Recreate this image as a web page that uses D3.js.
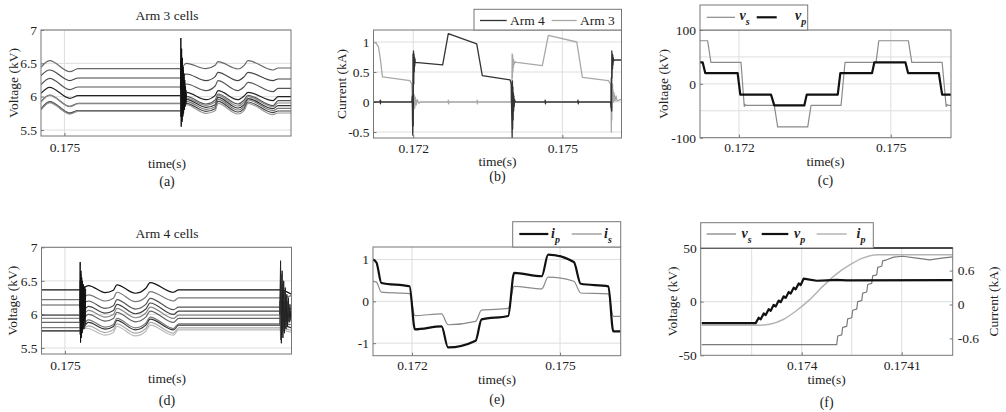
<!DOCTYPE html>
<html><head><meta charset="utf-8">
<script src="https://cdn.jsdelivr.net/npm/d3@7"></script>
<style>body{margin:0;background:#fff} svg text{fill:#222}</style>
</head><body><svg id="chart" width="1006" height="412"></svg>
<script>
// ---------------- DATA ----------------
// (a) Arm 3 cells  (time s, voltage kV)
const timeA = [0.1744, 0.17462, 0.17514, 0.17535, 0.17796, 0.17812, 0.17862, 0.17886, 0.17893, 0.17944, 0.1796, 0.1797, 0.18034, 0.18047, 0.1808];
const cellA1 = [6.44, 6.54, 6.375, 6.42, 6.42, 6.50, 6.42, 6.47, 6.525, 6.415, 6.47, 6.54, 6.40, 6.43, 6.43];
const cellA2 = [6.315, 6.40, 6.24, 6.28, 6.28, 6.34, 6.24, 6.30, 6.365, 6.24, 6.30, 6.365, 6.24, 6.265, 6.265];
const cellA3 = [6.18, 6.275, 6.105, 6.145, 6.145, 6.19, 6.09, 6.16, 6.24, 6.09, 6.15, 6.215, 6.075, 6.125, 6.125];
const cellA4 = [6.05, 6.14, 5.975, 6.015, 6.015, 6.065, 5.955, 6.02, 6.09, 5.955, 6.01, 6.065, 5.94, 6.0, 6.0];
const cellA5 = [5.925, 6.025, 5.855, 5.90, 5.90, 6.005, 5.89, 5.95, 6.04, 5.89, 5.95, 6.02, 5.865, 5.94, 5.94];
const cellA6 = [5.92, 6.02, 5.85, 5.895, 5.895, 5.98, 5.87, 5.92, 6.02, 5.86, 5.92, 6.0, 5.85, 5.905, 5.905];
const cellA7 = [5.815, 5.925, 5.755, 5.79, 5.79, 5.96, 5.84, 5.88, 5.99, 5.83, 5.88, 5.97, 5.82, 5.865, 5.865];
const cellA8 = [5.81, 5.92, 5.75, 5.79, 5.79, 5.93, 5.81, 5.85, 5.96, 5.80, 5.85, 5.95, 5.79, 5.825, 5.825];
const cellA9 = [5.805, 5.915, 5.745, 5.785, 5.785, 5.90, 5.78, 5.82, 5.93, 5.77, 5.82, 5.92, 5.76, 5.785, 5.785];
const cellA10 = [5.80, 5.91, 5.74, 5.78, 5.78, 5.88, 5.75, 5.79, 5.90, 5.74, 5.79, 5.90, 5.73, 5.755, 5.755];
const burstTimeA = [0.17797, 0.17798, 0.17799, 0.17800, 0.17801, 0.17802, 0.17803, 0.17804, 0.17805, 0.17806, 0.17807, 0.17808, 0.17809, 0.17810, 0.17811, 0.17812];
const burstA1 = [6.1, 6.88, 5.55, 6.72, 5.62, 6.58, 5.7, 6.45, 5.75, 6.35, 5.8, 6.25, 5.85, 6.15, 5.9, 6.05];
const burstA2 = [5.95, 6.55, 5.7, 6.6, 5.65, 6.45, 5.72, 6.4, 5.78, 6.3, 5.82, 6.2, 5.88, 6.1, 5.92, 6.0];
const burstA3 = [6.2, 5.7, 6.5, 5.75, 6.55, 5.8, 6.4, 5.85, 6.35, 5.9, 6.25, 5.95, 6.15, 5.98, 6.1, 6.0];

// (d) Arm 4 cells
const timeD = [0.1744, 0.17538, 0.1756, 0.17603, 0.17624, 0.17633, 0.1768, 0.17707, 0.17718, 0.17778, 0.17791, 0.1805, 0.1808];
const cellD1 = [6.365, 6.365, 6.43, 6.325, 6.36, 6.44, 6.315, 6.39, 6.475, 6.33, 6.365, 6.365, 6.3];
const cellD2 = [6.22, 6.22, 6.29, 6.2, 6.24, 6.33, 6.19, 6.26, 6.34, 6.2, 6.245, 6.245, 6.28];
const cellD3 = [6.14, 6.14, 6.2, 6.09, 6.13, 6.22, 6.08, 6.15, 6.24, 6.07, 6.11, 6.11, 6.08];
const cellD4 = [5.99, 5.99, 6.12, 6.02, 6.06, 6.15, 6.01, 6.08, 6.17, 6.0, 6.05, 6.05, 5.98];
const cellD5 = [5.94, 5.94, 6.06, 5.96, 6.0, 6.09, 5.95, 6.02, 6.11, 5.94, 5.99, 5.99, 6.02];
const cellD6 = [5.88, 5.88, 6.0, 5.9, 5.94, 6.03, 5.89, 5.96, 6.05, 5.88, 5.94, 5.94, 5.9];
const cellD7 = [5.805, 5.805, 5.92, 5.81, 5.85, 5.94, 5.8, 5.87, 5.96, 5.79, 5.86, 5.86, 5.85];
const cellD8 = [5.755, 5.755, 5.88, 5.78, 5.82, 5.91, 5.77, 5.84, 5.93, 5.77, 5.84, 5.84, 5.8];
const cellD9 = [5.755, 5.755, 5.83, 5.73, 5.77, 5.86, 5.72, 5.79, 5.88, 5.72, 5.80, 5.80, 5.76];
const cellD10 = [5.8, 5.8, 5.79, 5.69, 5.73, 5.82, 5.68, 5.75, 5.84, 5.69, 5.77, 5.77, 5.73];
const burstTimeD1 = [0.17538, 0.17539, 0.1754, 0.17541, 0.17542, 0.17543, 0.17544, 0.17545, 0.17546, 0.17547, 0.17548, 0.17549, 0.1755, 0.17551, 0.17552, 0.17553];
const burstD1a = [6.1, 6.78, 5.58, 6.65, 5.65, 6.55, 5.72, 6.5, 5.78, 6.45, 5.85, 6.42, 5.9, 6.4, 5.95, 6.38];
const burstD1b = [5.9, 6.5, 5.65, 6.6, 5.7, 6.45, 5.75, 6.4, 5.8, 6.3, 5.85, 6.2, 5.88, 6.1, 5.85, 5.9];
const burstD1c = [6.2, 5.7, 6.55, 5.75, 6.5, 5.8, 6.45, 5.75, 6.3, 5.8, 6.2, 5.78, 6.0, 5.82, 5.95, 5.85];
const burstTimeD2 = [0.1805, 0.18052, 0.18054, 0.18056, 0.18058, 0.1806, 0.18062, 0.18064, 0.18066, 0.18068, 0.1807, 0.18072, 0.18074, 0.18076, 0.18078, 0.1808];
const burstD2a = [6.0, 6.8, 5.57, 6.65, 5.65, 6.5, 5.72, 6.4, 5.78, 6.3, 5.82, 6.25, 5.88, 6.15, 5.92, 6.1];
const burstD2b = [6.2, 5.62, 6.6, 5.7, 6.45, 5.75, 6.35, 5.8, 6.25, 5.85, 6.2, 5.9, 6.1, 5.95, 6.05, 5.98];
const burstD2c = [5.85, 6.5, 5.75, 6.3, 5.8, 6.2, 5.85, 6.1, 5.9, 6.05, 5.95, 6.0, 5.96, 5.98, 5.97, 5.97];

// (b) Arm currents (time s, current kA)
const arm4Time = [0.1712, 0.17133, 0.171335, 0.17134, 0.171345, 0.17135, 0.17197, 0.17198, 0.171985, 0.17199, 0.171995, 0.172, 0.172005, 0.17201, 0.172015, 0.17202, 0.172025, 0.17203, 0.172035, 0.17204, 0.172592, 0.172705, 0.173277, 0.173389, 0.173947, 0.17397, 0.17399, 0.173995, 0.174, 0.174005, 0.17401, 0.174015, 0.17402, 0.174025, 0.17403, 0.17404, 0.17405, 0.17465, 0.174655, 0.17466, 0.174665, 0.17531, 0.175315, 0.17532, 0.175325, 0.17597, 0.17598, 0.175985, 0.17599, 0.175995, 0.176, 0.176005, 0.17601, 0.176015, 0.17602, 0.176025, 0.17603, 0.17604, 0.1762];
const arm4Cur = [0, 0, 0.03, -0.03, 0.02, 0, 0, 0.1, -0.3, -0.55, 0.8, -0.4, 0.85, 0.3, 0.8, 0.5, 0.75, 0.6, 0.72, 0.66, 0.62, 1.14, 0.97, 0.44, 0.37, 0.3, -0.6, 0.35, -0.45, 0.25, -0.3, 0.15, -0.15, 0.1, -0.08, 0.04, 0, 0, 0.03, -0.03, 0, 0, 0.03, -0.03, 0, 0, -0.1, 0.4, -0.15, 0.85, 0.4, 0.8, 0.55, 0.78, 0.62, 0.74, 0.68, 0.7, 0.7];
const arm3Time = [0.1712, 0.17125, 0.1713, 0.17134, 0.17138, 0.171934, 0.17197, 0.17198, 0.171985, 0.17199, 0.171995, 0.172, 0.17201, 0.17202, 0.17203, 0.17204, 0.17206, 0.17208, 0.17211, 0.17214, 0.1727, 0.172705, 0.17271, 0.172715, 0.17328, 0.173285, 0.17329, 0.173295, 0.17397, 0.173985, 0.17399, 0.173995, 0.174, 0.174005, 0.17401, 0.174015, 0.17402, 0.17403, 0.17405, 0.174082, 0.174597, 0.174718, 0.17529, 0.175403, 0.175926, 0.17597, 0.17598, 0.175985, 0.17599, 0.175995, 0.176, 0.176005, 0.17601, 0.176015, 0.17602, 0.17603, 0.17604, 0.17606, 0.17608, 0.1761, 0.1762];
const arm3Cur = [1.0, 0.98, 0.92, 0.7, 0.42, 0.355, 0.3, 0.05, -0.1, 0.12, -0.15, 0.15, -0.12, 0.12, -0.1, 0.08, -0.05, 0.04, -0.02, 0, 0, 0.03, -0.03, 0, 0, 0.03, -0.03, 0, 0, 0.3, 0.8, 0.4, 0.78, 0.5, 0.72, 0.58, 0.7, 0.63, 0.67, 0.66, 0.605, 1.11, 1.0, 0.41, 0.355, 0.3, 0.05, -0.5, 0.3, -0.3, 0.25, -0.15, 0.3, 0.05, 0.2, 0.0, 0.15, 0.02, 0.1, 0.02, 0.05];

// (c) Voltages (kV)
const vsTimeC = [0.17122, 0.171381, 0.171446, 0.17204, 0.172105, 0.17212, 0.17214, 0.172698, 0.172765, 0.173359, 0.173424, 0.174017, 0.174096, 0.174709, 0.174763, 0.175348, 0.175415, 0.176015, 0.176094, 0.17611, 0.17613, 0.1762];
const vsC = [80, 80, 40, 40, -42, -38, -40, -40, -80, -80, -40, -40, 40, 40, 80, 80, 40, 40, -42, -38, -40, -40];
const vpTimeC = [0.17122, 0.171282, 0.171334, 0.171974, 0.172026, 0.172633, 0.172698, 0.173291, 0.173339, 0.173952, 0.174003, 0.17463, 0.174676, 0.175289, 0.175342, 0.175949, 0.176015, 0.1762];
const vpC = [40, 40, 20, 20, -20, -20, -40, -40, -20, -20, 20, 20, 40, 40, 20, 20, -20, -20];

// (e) Currents (kA)
const timeE = [0.17121, 0.17128, 0.17138, 0.17195, 0.17206, 0.1726, 0.17273, 0.17329, 0.17341, 0.17395, 0.17407, 0.17463, 0.17476, 0.17528, 0.17542, 0.17598, 0.17608, 0.17623];
const ipE = [1.0, 0.93, 0.44, 0.36, -0.67, -0.6, -1.1, -0.94, -0.43, -0.35, 0.68, 0.6, 1.12, 0.94, 0.42, 0.36, -0.72, -0.72];
const isE = [0.48, 0.46, 0.22, 0.185, -0.34, -0.30, -0.56, -0.48, -0.21, -0.17, 0.36, 0.30, 0.58, 0.48, 0.20, 0.18, -0.36, -0.36];

// (f) Zoomed transition
const vsTimeF = [0.1739, 0.174035, 0.174036, 0.17404, 0.174041, 0.174045, 0.174046, 0.17405, 0.174051, 0.174055, 0.174056, 0.17406, 0.174061, 0.174065, 0.174066, 0.17407, 0.174071, 0.174075, 0.174076, 0.17408, 0.174081, 0.174085, 0.174092, 0.174101, 0.174115, 0.174128, 0.17414, 0.174151];
const vsF = [-40, -40, -32, -31, -24, -23, -16, -15, -8, -7, 0, 1, 8, 9, 16, 17, 24, 25, 32, 33, 38, 39, 41.5, 42.3, 40.5, 39, 40.5, 41.7];
const vpTimeF = [0.1739, 0.173954, 0.173957, 0.173959, 0.173962, 0.173964, 0.173967, 0.173969, 0.173972, 0.173974, 0.173977, 0.173979, 0.173982, 0.173984, 0.173987, 0.173989, 0.173992, 0.173994, 0.173997, 0.173999, 0.174002, 0.174008, 0.174015, 0.174025, 0.174035, 0.174045, 0.174151];
const vpF = [-20, -20, -15, -16.5, -11, -12.5, -7, -8.5, -3, -4.5, 1, -0.5, 5, 3.5, 9, 7.5, 13, 11.5, 17, 15.5, 21.5, 20.5, 19.5, 19.8, 20.3, 19.8, 20];
const ipTimeF = [0.1739, 0.173954, 0.173968, 0.173981, 0.173994, 0.174008, 0.174021, 0.174034, 0.174048, 0.174061, 0.174076, 0.174151];
const ipF = [-0.37, -0.37, -0.35, -0.27, -0.12, 0.085, 0.32, 0.53, 0.70, 0.82, 0.88, 0.88];

// tick values
const cellTicksY = [5.5, 6, 6.5, 7];
const cellTicksX = [0.175];
const armTicksY = [-0.5, 0, 0.5, 1];
const midTicksX = [0.172, 0.175];
const vTicksYc = [-100, 0, 100];
const vGridYc = [-100, -50, 0, 50, 100];
const iTicksYe = [-1, 0, 1];
const fTicksX = [0.174, 0.1741];
const fGridX = [0.17395, 0.174, 0.17405, 0.1741];
const fTicksYL = [-50, 0, 50];
const fTicksYR = [-0.6, 0, 0.6];

// ---------------- DRAWING ----------------
const svg = d3.select("#chart");
const FONT = "Liberation Serif";
const FS = 13.5;
const fmt = d => String(+d.toFixed(5));

function panel(o) {
  const x = d3.scaleLinear().domain(o.xd).range([o.L, o.R]);
  const y = d3.scaleLinear().domain(o.yd).range([o.B, o.T]);
  const g = svg.append("g");
  const cid = "clip-" + o.id;
  g.append("clipPath").attr("id", cid).append("rect")
    .attr("x", o.L).attr("y", o.T).attr("width", o.R - o.L).attr("height", o.B - o.T);
  g.append("g").selectAll("line").data(o.xGrid).join("line")
    .attr("x1", d => x(d)).attr("x2", d => x(d)).attr("y1", o.T).attr("y2", o.B)
    .attr("stroke", "#dedede").attr("stroke-width", 1);
  g.append("g").selectAll("line").data(o.yGrid).join("line")
    .attr("y1", d => y(d)).attr("y2", d => y(d)).attr("x1", o.L).attr("x2", o.R)
    .attr("stroke", "#dedede").attr("stroke-width", 1);
  const ax = g.append("g").attr("transform", `translate(0,${o.B})`)
    .call(d3.axisBottom(x).tickValues(o.xTicks).tickFormat(fmt).tickSizeInner(-3).tickSizeOuter(0).tickPadding(o.xPad || 5));
  const ay = g.append("g").attr("transform", `translate(${o.L},0)`)
    .call(d3.axisLeft(y).tickValues(o.yTicks).tickFormat(fmt).tickSizeInner(-3).tickSizeOuter(0).tickPadding(4));
  [ax, ay].forEach(a => {
    a.select(".domain").remove();
    a.attr("font-family", FONT).attr("font-size", FS);
    a.selectAll("line").attr("stroke", "#777");
    a.selectAll("text").style("fill", "#222");
  });
  const layer = g.append("g").attr("clip-path", `url(#${cid})`);
  return { x, y, g, layer, o };
}
function frame(p, stroke) {
  const o = p.o;
  p.g.append("rect").attr("x", o.L).attr("y", o.T).attr("width", o.R - o.L).attr("height", o.B - o.T)
    .attr("fill", "none").attr("stroke", stroke || "#777").attr("stroke-width", 1);
}
function series(p, T, V, color, w, curve, yScale) {
  const ys = yScale || p.y;
  p.layer.append("path").datum(d3.zip(T, V))
    .attr("fill", "none").attr("stroke", color).attr("stroke-width", w)
    .attr("stroke-linejoin", "round")
    .attr("d", d3.line().x(d => p.x(d[0])).y(d => ys(d[1])).curve(curve || d3.curveLinear));
}
function txt(x, y, s, opt = {}) {
  const t = svg.append("text").attr("x", x).attr("y", y).text(s)
    .attr("font-family", FONT)
    .attr("font-size", opt.size || FS).attr("text-anchor", opt.anchor || "middle");
  if (opt.rot) t.attr("transform", `rotate(${opt.rot},${x},${y})`).attr("dominant-baseline", "central");
  return t;
}
function legendBox(x0, y0, x1, y1) {
  svg.append("rect").attr("x", x0).attr("y", y0).attr("width", x1 - x0).attr("height", y1 - y0)
    .attr("fill", "#fff").attr("stroke", "#777").attr("stroke-width", 1);
}
function legLine(x0, x1, y, color, w) {
  svg.append("line").attr("x1", x0).attr("x2", x1).attr("y1", y).attr("y2", y)
    .attr("stroke", color).attr("stroke-width", w);
}
function legSym(x, y, base, sub) {
  const t = svg.append("text").attr("x", x).attr("y", y).attr("font-family", FONT)
    .attr("font-size", 14).attr("font-style", "italic").attr("font-weight", "bold");
  t.append("tspan").text(base);
  t.append("tspan").text(sub).attr("font-size", 10).attr("dy", 5);
}

const cellColorsA = ["#666", "#444", "#555", "#222", "#555", "#888", "#333", "#777", "#444", "#999"];
const cellColorsD = ["#111", "#777", "#555", "#444", "#888", "#666", "#777", "#333", "#aaa", "#bbb"];

// ---- (a)
{
  const p = panel({ id: "a", L: 41, R: 291, T: 30, B: 136, xd: [0.1744, 0.1808], yd: [5.41, 7],
    xGrid: cellTicksX, yGrid: cellTicksY, xTicks: cellTicksX, yTicks: cellTicksY, xPad: 6 });
  [cellA1, cellA2, cellA3, cellA4, cellA5, cellA6, cellA7, cellA8, cellA9, cellA10]
    .forEach((c, i) => series(p, timeA, c, cellColorsA[i], 1.2, d3.curveMonotoneX));
  [burstA2, burstA3, burstA1].forEach((b, i) => series(p, burstTimeA, b, ["#444", "#333", "#111"][i], 1));
  frame(p);
  txt(167, 20, "Arm 3 cells");
  txt(13, 83, "Voltage (kV)", { rot: -90 });
  txt(167, 168, "time(s)");
  txt(167, 186, "(a)", { size: 14 });
}
// ---- (d)
{
  const p = panel({ id: "d", L: 41.5, R: 291.5, T: 247.3, B: 354, xd: [0.1744, 0.1808], yd: [5.41, 7],
    xGrid: cellTicksX, yGrid: cellTicksY, xTicks: cellTicksX, yTicks: cellTicksY, xPad: 6 });
  [cellD10, cellD9, cellD8, cellD7, cellD6, cellD5, cellD4, cellD3, cellD2, cellD1]
    .forEach((c, i) => series(p, timeD, c, cellColorsD[9 - i], 1.2, d3.curveMonotoneX));
  [burstD1b, burstD1c, burstD1a].forEach((b, i) => series(p, burstTimeD1, b, ["#555", "#333", "#111"][i], 1));
  [burstD2b, burstD2c, burstD2a].forEach((b, i) => series(p, burstTimeD2, b, ["#666", "#444", "#222"][i], 1));
  frame(p);
  txt(167, 238, "Arm 4 cells");
  txt(13, 300.7, "Voltage (kV)", { rot: -90 });
  txt(167, 383, "time(s)");
  txt(167, 405, "(d)", { size: 14 });
}
// ---- (b)
{
  const p = panel({ id: "b", L: 373.5, R: 621.5, T: 30, B: 138, xd: [0.1712, 0.17619], yd: [-0.6, 1.2],
    xGrid: midTicksX, yGrid: armTicksY, xTicks: midTicksX, yTicks: armTicksY });
  series(p, arm3Time, arm3Cur, "#a8a8a8", 1.3);
  series(p, arm4Time, arm4Cur, "#333", 1.3);
  frame(p);
  legendBox(474, 9.3, 621.5, 30);
  legLine(480, 506.7, 20.5, "#333", 1.3);
  txt(510, 25, "Arm 4", { anchor: "start" });
  legLine(551.7, 576.7, 20.5, "#a8a8a8", 1.3);
  txt(580, 25, "Arm 3", { anchor: "start" });
  txt(341, 84, "Current (kA)", { rot: -90 });
  txt(497.5, 166, "time(s)");
  txt(497.5, 181, "(b)", { size: 14 });
}
// ---- (c)
{
  const p = panel({ id: "c", L: 700, R: 951, T: 30, B: 137.7, xd: [0.17123, 0.17619], yd: [-100, 100],
    xGrid: midTicksX, yGrid: vGridYc, xTicks: midTicksX, yTicks: vTicksYc });
  series(p, vsTimeC, vsC, "#8a8a8a", 1.2);
  series(p, vpTimeC, vpC, "#111", 2.2);
  frame(p);
  legendBox(700, 5, 807.7, 30);
  legLine(706.7, 735, 17.3, "#8a8a8a", 1.2);
  legSym(739.5, 20, "v", "s");
  legLine(756.7, 776.7, 17.3, "#111", 2.2);
  legSym(795, 20, "v", "p");
  txt(663, 84, "Voltage (kV)", { rot: -90 });
  txt(825.5, 166, "time(s)");
  txt(825.5, 185, "(c)", { size: 14 });
}
// ---- (e)
{
  const p = panel({ id: "e", L: 373, R: 620.7, T: 247, B: 355.7, xd: [0.17121, 0.17623], yd: [-1.3, 1.3],
    xGrid: midTicksX, yGrid: iTicksYe, xTicks: midTicksX, yTicks: iTicksYe });
  series(p, timeE, isE, "#8a8a8a", 1.2, d3.curveMonotoneX);
  series(p, timeE, ipE, "#111", 2.2, d3.curveMonotoneX);
  frame(p);
  legendBox(512.7, 221.7, 620.7, 247);
  legLine(519.3, 548.3, 234, "#111", 2.2);
  legSym(551, 237.5, "i", "p");
  legLine(571.7, 601.7, 234, "#8a8a8a", 1.2);
  legSym(604, 237.5, "i", "s");
  txt(497, 384, "time(s)");
  txt(497, 404, "(e)", { size: 14 });
}
// ---- (f)
{
  const p = panel({ id: "f", L: 700.7, R: 952.7, T: 248, B: 355.3, xd: [0.173899, 0.174151], yd: [-50, 50],
    xGrid: fGridX, yGrid: [0], xTicks: fTicksX, yTicks: fTicksYL });
  const yR = d3.scaleLinear().domain([-0.9, 1.0]).range([355.3, 248]);
  const ar = p.g.append("g").attr("transform", "translate(952.7,0)")
    .call(d3.axisRight(yR).tickValues(fTicksYR).tickFormat(fmt).tickSizeInner(-3).tickSizeOuter(0).tickPadding(5));
  ar.select(".domain").remove();
  ar.attr("font-family", FONT).attr("font-size", FS);
  ar.selectAll("line").attr("stroke", "#777");
  ar.selectAll("text").style("fill", "#222");
  series(p, ipTimeF, ipF, "#b4b4b4", 1.5, d3.curveMonotoneX, yR);
  series(p, vsTimeF, vsF, "#7a7a7a", 1.2);
  series(p, vpTimeF, vpF, "#111", 2.2);
  frame(p);
  p.g.append("line").attr("x1", 700.7).attr("x2", 952.7).attr("y1", 248).attr("y2", 248).attr("stroke", "#222").attr("stroke-width", 1.6);
  legendBox(700.7, 222.7, 873.3, 248);
  legLine(706.7, 736, 234, "#7a7a7a", 1.2);
  legSym(741.5, 237.5, "v", "s");
  legLine(761.7, 788.3, 234, "#111", 2.2);
  legSym(794, 237.5, "v", "p");
  legLine(816.7, 846.7, 234, "#b4b4b4", 1.5);
  legSym(856.5, 237.5, "i", "p");
  txt(672, 301.5, "Voltage (kV)", { rot: -90 });
  txt(993, 301.5, "Current (kA)", { rot: -90 });
  txt(826.7, 384, "time(s)");
  txt(826.7, 407, "(f)", { size: 14 });
}
</script></body></html>
